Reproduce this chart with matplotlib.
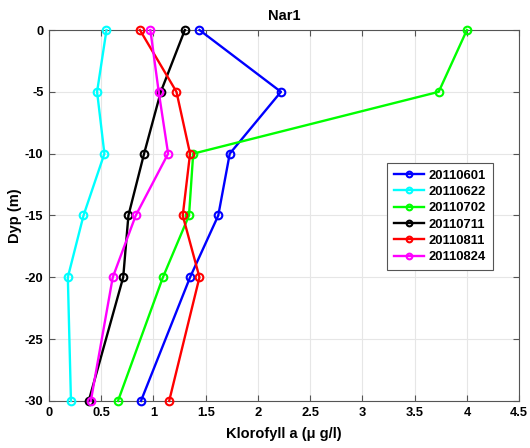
import matplotlib
matplotlib.use("Agg")
import matplotlib.pyplot as plt

plt.rcParams['font.family'] = ['Liberation Sans', 'DejaVu Sans']
plt.rcParams['axes.unicode_minus'] = False

depth = [0, -5, -10, -15, -20, -30]
labels = ['20110601', '20110622', '20110702', '20110711', '20110811', '20110824']
colors = ['#0000ff', '#00ffff', '#00ff00', '#000000', '#ff0000', '#ff00ff']

chl_20110601 = [1.44, 2.22, 1.73, 1.62, 1.35, 0.88]
chl_20110622 = [0.55, 0.46, 0.53, 0.33, 0.18, 0.21]
chl_20110702 = [4.00, 3.73, 1.38, 1.34, 1.09, 0.66]
chl_20110711 = [1.30, 1.07, 0.91, 0.76, 0.71, 0.38]
chl_20110811 = [0.87, 1.22, 1.35, 1.28, 1.44, 1.15]
chl_20110824 = [0.97, 1.05, 1.14, 0.83, 0.61, 0.40]
series = [chl_20110601, chl_20110622, chl_20110702, chl_20110711, chl_20110811, chl_20110824]

xticks = [0, 0.5, 1, 1.5, 2, 2.5, 3, 3.5, 4, 4.5]
xticklabels = ['0', '0.5', '1', '1.5', '2', '2.5', '3', '3.5', '4', '4.5']
yticks = [0, -5, -10, -15, -20, -25, -30]

fig = plt.figure(figsize=(5.3, 4.48), dpi=100)
ax = fig.add_axes([0.0925, 0.105, 0.887, 0.828])

for vals, c, lab in zip(series, colors, labels):
    ax.plot(vals, depth, color=c, lw=1.7, marker='o', markersize=5.5,
            markerfacecolor='none', markeredgewidth=1.5, label=lab, clip_on=False, zorder=3)

ax.set_xlim(0, 4.5)
ax.set_ylim(-30, 0)
ax.set_xticks(xticks)
ax.set_xticklabels(xticklabels)
ax.set_yticks(yticks)
ax.grid(True, color='#e6e6e6', lw=0.8)
ax.set_axisbelow(True)
ax.tick_params(direction='in', length=4, width=0.8, color='#555555', labelsize=9.3,
               top=True, right=True)
ax.tick_params(axis='y', pad=4)
ax.tick_params(axis='x', pad=4)
for lbl in ax.get_xticklabels() + ax.get_yticklabels():
    lbl.set_fontweight('bold')
for s in ax.spines.values():
    s.set_color('#555555')
    s.set_linewidth(0.8)

ax.set_title('Nar1', fontsize=10.5, fontweight='bold', pad=7)
ax.set_xlabel('Klorofyll a (\u03bc g/l)', fontsize=10.5, fontweight='bold', labelpad=6)
ax.set_ylabel('Dyp (m)', fontsize=10.5, fontweight='bold', labelpad=2)

leg = ax.legend(loc='upper left', bbox_to_anchor=(0.719, 0.6415), borderaxespad=0,
                prop={'weight': 'bold', 'size': 9.4}, fancybox=False, framealpha=1,
                edgecolor='#555555', handlelength=2.3, handletextpad=0.4,
                labelspacing=0.32, borderpad=0.5, markerscale=0.75)
leg.get_frame().set_linewidth(0.8)

fig.savefig('out.png', dpi=100)
